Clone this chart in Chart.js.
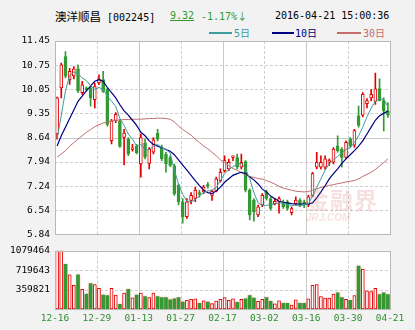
<!DOCTYPE html>
<html><head><meta charset="utf-8">
<script src="https://cdn.jsdelivr.net/npm/chart.js@4.4.0/dist/chart.umd.min.js"></script>
<style>
html,body{margin:0;padding:0;background:#f2f2f2;}
#wrap{position:relative;width:415px;height:330px;overflow:hidden;background:#f2f2f2;font-family:"DejaVu Sans Mono","Noto Sans CJK SC",monospace;color:#000;}
.t{position:absolute;white-space:nowrap;font-size:10px;line-height:12px;}
.cn{font-family:"Noto Sans CJK SC",sans-serif;}
.lg{position:absolute;height:2px;}
#c1box{position:absolute;left:0;top:30px;width:415px;height:215px;}
#c2box{position:absolute;left:0;top:240px;width:415px;height:90px;}
#wm{position:absolute;left:306px;top:186px;pointer-events:none;color:rgba(215,120,120,0.22);}
</style></head><body>
<div id="wrap">
  <div class="t" style="left:55px;top:10px;font-size:10px;"><span class="cn" style="font-size:11.5px;">澳洋顺昌</span> [002245]</div>
  <div class="t" style="left:170px;top:10px;color:#2f9a2f;text-decoration:underline;">9.32</div>
  <div class="t" style="left:201px;top:10px;color:#2f9a2f;">-1.17%<span class="cn">↓</span></div>
  <div class="t" style="left:275px;top:10px;">2016-04-21 15:00:36</div>
  <div class="lg" style="left:209px;top:32px;width:23px;background:#3d9c9c;"></div>
  <div class="t" style="left:234px;top:27px;color:#3d9c9c;">5<span class="cn">日</span></div>
  <div class="lg" style="left:272px;top:32px;width:22px;background:#000080;"></div>
  <div class="t" style="left:295px;top:27px;color:#000080;">10<span class="cn">日</span></div>
  <div class="lg" style="left:337px;top:32px;width:24px;background:#c76b6b;"></div>
  <div class="t" style="left:363px;top:27px;color:#c76b6b;">30<span class="cn">日</span></div>
  <div id="c1box"><canvas id="c1" width="415" height="215"></canvas></div>
  <div id="c2box"><canvas id="c2" width="415" height="90"></canvas></div>
  <div id="wm"><div class="cn" style="font-size:23px;font-weight:bold;line-height:26px;letter-spacing:1px;">金融界</div><div style="font-size:10px;font-weight:bold;font-style:italic;line-height:12px;font-family:'Liberation Sans',sans-serif;">JRJ.COM</div></div>
</div>
<script>
// ---- data ----
const xLabels = ["12-16","12-29","01-13","01-27","02-17","03-02","03-16","03-30","04-21"];
const yTicks = [5.84, 6.54, 7.24, 7.94, 8.64, 9.35, 10.05, 10.75, 11.45];
const volTicks = [359821, 719643, 1079464];

const openP  = [8.75,10.09,11.00,10.33,10.44,10.64,9.95,10.09,10.09,9.75,
                10.23,10.33,10.04,8.56,9.13,9.13,8.65,8.60,8.30,8.40,
                7.88,8.49,7.90,8.22,8.77,8.36,8.17,8.07,7.83,7.26,
                6.78,6.35,6.82,6.88,7.05,7.07,7.28,6.97,7.09,7.40,
                7.69,7.74,8.07,8.07,7.79,7.95,7.12,6.83,6.40,6.69,
                7.07,6.88,6.73,6.78,6.78,6.78,6.47,6.73,6.83,6.78,
                6.69,6.97,7.79,7.79,7.79,7.93,7.93,8.41,8.31,8.07,
                8.60,8.43,9.28,9.30,9.63,9.80,9.70,10.07,9.72,9.42];
const highP  = [9.82,10.81,11.14,10.66,10.71,10.76,10.28,10.12,10.14,10.23,
                10.47,10.57,10.09,9.18,9.37,9.18,8.89,8.65,8.45,8.45,
                8.75,8.60,8.36,8.65,8.89,8.43,8.22,8.12,7.88,7.30,
                6.88,6.88,7.05,7.21,7.12,7.26,7.35,7.12,7.50,7.74,
                8.12,8.02,8.12,8.17,8.17,7.98,7.16,6.88,6.69,7.02,
                7.12,6.93,6.88,6.93,6.83,6.83,6.64,6.93,6.88,6.83,
                6.97,7.64,8.22,8.12,8.12,8.03,8.36,8.70,8.36,8.55,
                8.65,8.89,9.56,9.95,9.78,10.04,10.52,10.35,9.80,9.66];
const lowP   = [8.60,9.80,10.38,10.19,10.35,9.95,9.90,10.00,9.56,9.51,
                10.18,9.96,8.98,8.46,9.08,8.36,7.85,8.12,8.25,8.17,
                7.50,8.03,7.74,8.17,8.55,7.98,7.64,7.80,6.97,6.69,
                6.16,6.30,6.72,6.79,6.92,7.02,7.18,6.82,7.07,7.35,
                7.64,7.69,7.98,7.74,7.74,7.07,6.26,6.22,6.35,6.64,
                6.83,6.54,6.69,6.45,6.59,6.54,6.40,6.69,6.64,6.61,
                6.64,6.93,7.74,7.74,7.72,7.84,7.88,8.22,7.79,8.03,
                8.36,8.36,8.95,9.25,9.51,9.71,9.61,9.71,8.84,9.23];
const closeP = [9.80,10.76,10.43,10.57,10.64,10.00,10.18,10.04,9.80,10.13,
                10.35,9.99,9.03,9.13,9.32,8.39,8.78,8.17,8.35,8.21,
                8.65,8.08,8.31,8.58,8.60,8.03,7.88,7.84,7.02,6.78,
                6.35,6.78,6.97,7.12,7.00,7.21,7.24,7.09,7.45,7.64,
                7.98,7.93,8.12,7.79,7.93,7.12,6.40,6.49,6.64,6.97,
                6.88,6.59,6.80,6.88,6.64,6.59,6.59,6.83,6.69,6.69,
                6.93,7.60,7.93,7.93,8.03,7.98,8.31,8.27,8.07,8.51,
                8.41,8.85,9.00,9.90,9.72,9.90,10.06,9.72,9.42,9.30];
const volume = [1075000,1079464,826000,631000,437000,631000,366000,277000,472000,454000,
                383000,259000,248000,383000,259000,88000,295000,366000,206000,259000,
                295000,230000,212000,295000,230000,212000,212000,171000,189000,212000,
                130000,159000,177000,189000,106000,153000,130000,100000,147000,177000,
                212000,159000,189000,124000,177000,189000,248000,200000,142000,177000,
                212000,142000,94000,153000,106000,106000,71000,171000,106000,106000,
                189000,437000,454000,230000,200000,200000,277000,301000,212000,177000,
                159000,248000,796000,737000,336000,324000,383000,265000,301000,265000];
const ma5  = [8.60,9.30,10.00,10.45,10.55,10.50,10.38,10.30,10.15,10.05,
              10.10,10.05,9.85,9.70,9.55,9.20,9.00,8.75,8.60,8.40,
              8.45,8.30,8.30,8.40,8.45,8.35,8.30,8.20,7.70,7.30,
              7.00,6.80,6.78,6.85,6.95,7.05,7.10,7.12,7.20,7.40,
              7.60,7.72,7.80,7.88,7.90,7.75,7.45,7.05,6.75,6.68,
              6.68,6.70,6.72,6.75,6.75,6.70,6.68,6.68,6.66,6.70,
              6.72,6.95,7.20,7.45,7.70,7.88,8.00,8.10,8.20,8.30,
              8.35,8.50,8.70,8.95,9.25,9.50,9.70,9.78,9.75,9.55];
const ma10 = [8.40,8.70,8.95,9.20,9.45,9.70,9.85,10.00,10.15,10.28,
              10.33,10.28,10.10,9.95,9.80,9.60,9.42,9.30,9.15,9.00,
              8.80,8.70,8.55,8.45,8.40,8.35,8.30,8.25,8.15,8.00,
              7.85,7.70,7.55,7.40,7.25,7.12,7.05,7.02,7.10,7.21,
              7.35,7.45,7.55,7.60,7.64,7.60,7.50,7.42,7.30,7.15,
              7.07,6.95,6.87,6.80,6.77,6.75,6.73,6.72,6.72,6.72,
              6.72,6.75,6.90,7.07,7.25,7.45,7.60,7.74,7.90,8.03,
              8.15,8.27,8.40,8.55,8.75,8.95,9.15,9.28,9.35,9.42];
const ma30 = [8.08,8.17,8.27,8.40,8.50,8.60,8.70,8.80,8.88,8.96,
              9.02,9.07,9.10,9.13,9.15,9.16,9.17,9.17,9.18,9.18,
              9.18,9.19,9.20,9.20,9.21,9.21,9.20,9.18,9.10,8.98,
              8.88,8.80,8.72,8.60,8.50,8.40,8.32,8.22,8.12,8.00,
              7.92,7.83,7.75,7.70,7.63,7.56,7.52,7.49,7.46,7.44,
              7.40,7.35,7.30,7.23,7.18,7.15,7.12,7.09,7.08,7.07,
              7.08,7.12,7.16,7.20,7.23,7.26,7.28,7.31,7.33,7.36,
              7.38,7.40,7.45,7.52,7.58,7.64,7.72,7.82,7.92,8.03];

// ---- rendering ----
const RED = '#e00000', GREEN = '#339a33';
const FONT = {family: 'DejaVu Sans Mono', size: 9.5};
const isUp = i => closeP[i] >= openP[i];
const pos = i => i + 0.5;
const pts = arr => arr.map((v, i) => ({x: pos(i), y: v}));

function gridPlugin(solidY, solidX) {
  return {
    id: 'bgGrid',
    beforeDatasetsDraw(chart) {
      const {ctx, chartArea: a, scales} = chart;
      ctx.save();
      ctx.fillStyle = '#ffffff';
      ctx.globalCompositeOperation = 'destination-over';
      ctx.fillRect(a.left, a.top, a.right - a.left, a.bottom - a.top);
      ctx.globalCompositeOperation = 'source-over';
      ctx.lineWidth = 1;
      scales.y.ticks.forEach(t => {
        const y = Math.round(scales.y.getPixelForValue(t.value)) + 0.5;
        if (y <= a.top + 1 || y >= a.bottom - 1) return;
        const solid = solidY.includes(t.value);
        ctx.strokeStyle = solid ? '#c8c8c8' : '#cfcfcf';
        ctx.setLineDash(solid ? [] : [3, 2]);
        ctx.beginPath(); ctx.moveTo(a.left, y); ctx.lineTo(a.right, y); ctx.stroke();
      });
      for (let k = 1; k < xLabels.length - 1; k++) {
        const x = Math.round(scales.x.getPixelForValue(k * 10)) + 0.5;
        const solid = solidX.includes(k);
        ctx.strokeStyle = solid ? '#c8c8c8' : '#cfcfcf';
        ctx.setLineDash(solid ? [] : [3, 2]);
        ctx.beginPath(); ctx.moveTo(x, a.top); ctx.lineTo(x, a.bottom); ctx.stroke();
      }
      ctx.restore();
    },
    afterDraw(chart) {
      const {ctx, chartArea: a} = chart;
      ctx.save();
      ctx.strokeStyle = '#b8b8b8';
      ctx.lineWidth = 1;
      ctx.setLineDash([]);
      ctx.strokeRect(Math.round(a.left) + 0.5, Math.round(a.top) + 0.5,
                     Math.round(a.right - a.left), Math.round(a.bottom - a.top));
      ctx.restore();
    }
  };
}

new Chart(document.getElementById('c1'), {
  type: 'bar',
  data: {
    datasets: [
      {type: 'line', label: '5日', data: pts(ma5), borderColor: '#3d9c9c', borderWidth: 1, pointRadius: 0, order: 1},
      {type: 'line', label: '10日', data: pts(ma10), borderColor: '#000080', borderWidth: 1.2, pointRadius: 0, order: 1},
      {type: 'line', label: '30日', data: pts(ma30), borderColor: '#c07070', borderWidth: 1, pointRadius: 0, order: 1},
      {type: 'bar', label: 'wick', data: openP.map((_, i) => ({x: pos(i), y: [lowP[i], highP[i]]})),
       barThickness: 1, grouped: false, borderWidth: 0,
       backgroundColor: c => isUp(c.dataIndex) ? RED : GREEN, order: 3},
      {type: 'bar', label: 'body', data: openP.map((_, i) => ({x: pos(i), y: [openP[i], closeP[i]]})),
       barThickness: 3, grouped: false, borderWidth: 1, borderSkipped: false,
       backgroundColor: c => isUp(c.dataIndex) ? '#ffffff' : GREEN,
       borderColor: c => isUp(c.dataIndex) ? RED : GREEN, order: 2}
    ]
  },
  options: {
    responsive: false, animation: false, events: [],
    layout: {padding: {top: 11, bottom: 9, left: 0, right: 25}},
    plugins: {legend: {display: false}, tooltip: {enabled: false}},
    scales: {
      x: {type: 'linear', min: 0, max: 80, offset: false, display: false},
      y: {type: 'linear', min: yTicks[0], max: yTicks[yTicks.length - 1],
          afterBuildTicks: s => { s.ticks = yTicks.map(v => ({value: v})); },
          afterFit: s => { s.width = 55; },
          ticks: {font: FONT, color: '#000', padding: 5, callback: v => Number(v).toFixed(2)},
          grid: {display: false, drawTicks: false}, border: {display: false}}
    }
  },
  plugins: [gridPlugin([8.64], [2, 4, 6])]
});

const volGlow = {
  id: 'volGlow',
  beforeDatasetDraw(chart) {
    chart.ctx.save();
    chart.ctx.shadowColor = 'rgba(255,80,80,0.55)';
    chart.ctx.shadowBlur = 2;
  },
  afterDatasetDraw(chart) { chart.ctx.restore(); }
};

new Chart(document.getElementById('c2'), {
  type: 'bar',
  data: {
    datasets: [
      {label: 'volume', data: volume.map((v, i) => ({x: pos(i), y: v})),
       barThickness: 3, grouped: false, borderSkipped: false,
       borderWidth: c => isUp(c.dataIndex) ? 1 : 0,
       backgroundColor: c => isUp(c.dataIndex) ? '#ffffff' : GREEN,
       borderColor: c => isUp(c.dataIndex) ? RED : GREEN}
    ]
  },
  options: {
    responsive: false, animation: false, events: [],
    layout: {padding: {top: 8, bottom: 0, left: 0, right: 25}},
    plugins: {legend: {display: false}, tooltip: {enabled: false}},
    scales: {
      x: {type: 'linear', min: 0, max: 80, offset: false,
          afterBuildTicks: s => { s.ticks = xLabels.map((_, k) => ({value: k * 10})); },
          afterFit: s => { s.height = 21; },
          ticks: {font: FONT, color: '#2f8f2f', padding: 4, maxRotation: 0, autoSkip: false,
                  callback: v => xLabels[Math.round(v / 10)]},
          grid: {display: false, drawTicks: false, offset: false}, border: {display: false}},
      y: {type: 'linear', min: 0, max: volTicks[volTicks.length - 1],
          afterBuildTicks: s => { s.ticks = volTicks.map(v => ({value: v})); },
          afterFit: s => { s.width = 55; },
          ticks: {font: FONT, color: '#000', padding: 5, callback: v => String(v)},
          grid: {display: false, drawTicks: false}, border: {display: false}}
    }
  },
  plugins: [gridPlugin([], [2, 4, 6]), volGlow]
});
</script>
</body></html>
